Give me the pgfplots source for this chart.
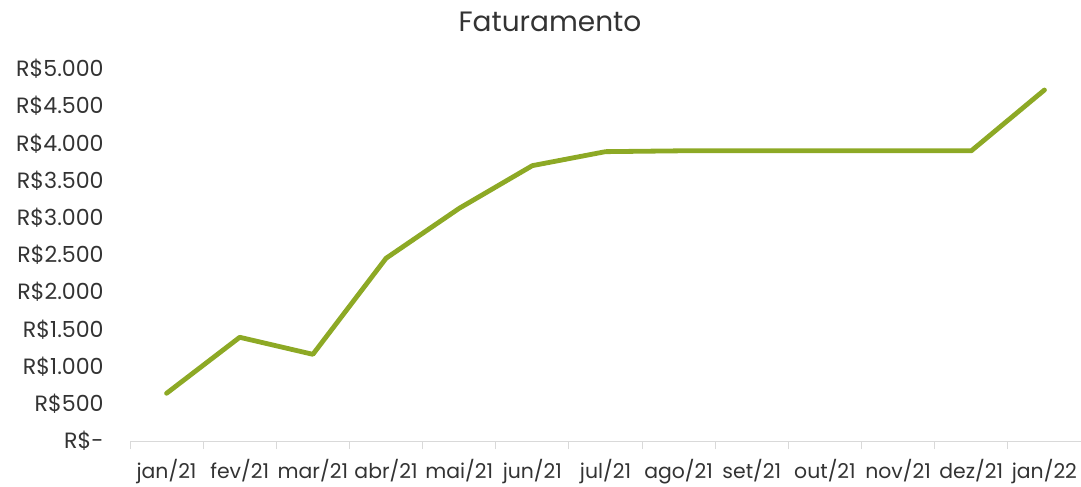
\documentclass[border=0pt]{standalone}
\usepackage{fontspec}
\setmainfont{Poppins}
\usepackage{pgfplots}
\pgfplotsset{compat=1.18}
\definecolor{linegreen}{HTML}{8DA925}
\definecolor{txt}{HTML}{333333}
\definecolor{axgray}{HTML}{D9D9D9}
\begin{document}
\begin{tikzpicture}
\useasboundingbox (0,0) rectangle (810.75pt,364.5pt);
\begin{axis}[
  at={(97.5pt,33.75pt)}, anchor=south west,
  scale only axis, width=713.25pt, height=279pt,
  xmin=-0.5, xmax=12.5, ymin=0, ymax=5000,
  axis x line*=bottom, axis y line*=left,
  y axis line style={draw=none},
  x axis line style={axgray, line width=0.75pt},
  xtick={0,...,12},
  xticklabels={jan/21,fev/21,mar/21,abr/21,mai/21,jun/21,jul/21,ago/21,set/21,out/21,nov/21,dez/21,jan/22},
  major x tick style={draw=none},
  minor xtick={-0.5,0.5,...,12.5},
  minor x tick style={axgray, line width=0.75pt},
  minor tick length=6pt,
  x tick label style={font=\fontsize{15.3}{17}\selectfont, text=txt, yshift=-6pt},
  ytick={0,500,...,5000},
  yticklabels={R\$-,R\$500,R\$1.000,R\$1.500,R\$2.000,R\$2.500,R\$3.000,R\$3.500,R\$4.000,R\$4.500,R\$5.000},
  major y tick style={draw=none},
  y tick label style={font=\fontsize{16.6}{18}\selectfont, text=txt, anchor=east, xshift=-12pt},
  tick align=outside,
  clip=false,
]
\addplot[linegreen, line width=3.6pt, line cap=round, line join=round] coordinates {
(0,641) (1,1394) (2,1165) (3,2456) (4,3127) (5,3701) (6,3889) (7,3900) (8,3900) (9,3900) (10,3900) (11,3900) (12,4718)
};
\node[font=\fontsize{21}{24}\selectfont, text=txt] at (axis description cs:0.4416,1.126) {Faturamento};
\end{axis}
\end{tikzpicture}
\end{document}
